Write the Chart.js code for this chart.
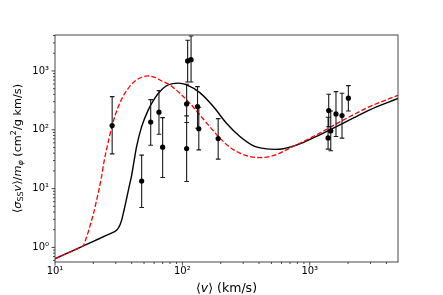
<!DOCTYPE html>
<html lang="en">

<head>
    <meta charset="UTF-8">
    <title>Self-scattering rate vs velocity</title>
    <script src="https://cdn.jsdelivr.net/npm/chart.js"></script>
    <style>
        html, body { margin: 0; padding: 0; background: #fff; }
        canvas { display: block; }
    </style>
</head>

<body>
    <canvas id="grafico" width="443" height="295"></canvas>

    <script>
        // Black solid curve (v in km/s, rate in cm^2/g km/s)
        const blackV = [10, 14, 16.7, 20, 25, 28, 29.6, 31, 32.4, 33.5, 34.4, 35.6, 36.7, 38.3, 40, 41.9, 43.7, 47.9, 54, 60.8, 66.6, 74, 84, 93, 108, 137, 175, 222, 283, 359, 457, 530, 620, 697, 887, 1197, 1618, 2188, 2958, 4930];
        const blackS = [0.642, 0.89, 1.06, 1.27, 1.58, 1.77, 1.87, 2.05, 2.43, 3.0, 3.83, 5.3, 7.2, 11, 17, 30.8, 51.8, 113, 218, 344, 446, 550, 610, 620, 578, 428, 248, 129, 76.7, 53.9, 47.4, 46.5, 47.5, 50.6, 60.7, 81.9, 113, 157, 218, 340];

        // Red dashed curve
        const redV = [10, 14, 16.2, 16.7, 17.4, 18.2, 19, 20, 21.2, 22, 23.2, 24.4, 25.7, 28.2, 31.4, 35.4, 41.1, 47.9, 53.3, 60.8, 66.6, 70.6, 79.8, 95.4, 114.5, 137, 164, 197, 236, 283, 338, 405, 486, 564, 697, 887, 1197, 1618, 2188, 2958, 4930];
        const redS = [0.642, 0.89, 1.03, 1.07, 1.35, 1.8, 2.5, 3.7, 6.3, 9, 16, 30.8, 51.8, 121, 248, 418, 633, 781, 822, 781, 703, 659, 578, 418, 283, 179, 113, 72, 50.6, 40, 35.1, 33.7, 35.1, 38.9, 48.7, 63, 87.5, 126, 179, 248, 385];

        // Observed systems with error bars
        const obsV = [28.1, 47.9, 56.4, 65.5, 70, 110, 117, 108, 108, 131.5, 134.6, 191, 1393, 1409, 1462, 1607, 1792, 2010];
        const obsS = [118, 13.4, 135, 199, 50.6, 1479, 1556, 275, 48, 248, 104, 70.8, 72.8, 212, 95.7, 186, 174, 344];
        const obsLo = [39, 4.77, 54.7, 84, 15.4, 650, 650, 133, 13.2, 106, 45.6, 31.7, 46.8, 113, 44, 76.7, 72, 209];
        const obsHi = [366, 37, 326, 463, 161, 3320, 3930, 594, 172, 541, 242, 155, 163, 402, 209, 446, 418, 564];

        // Axis ranges and tick labels
        const xMin = 10, xMax = 4930;
        const yMin = 0.565, yMax = 4085;
        const xMajor = [10, 100, 1000];
        const xTickLabels = ['10¹', '10²', '10³'];
        const yMajor = [1, 10, 100, 1000];
        const yTickLabels = ['10⁰', '10¹', '10²', '10³'];

        // Ticks at 1..9 x 10^n inside the range
        function logTicks(min, max) {
            const out = [];
            for (let e = Math.floor(Math.log10(min)); e <= Math.ceil(Math.log10(max)); e++) {
                for (let m = 1; m <= 9; m++) {
                    const v = m * Math.pow(10, e);
                    if (v >= min * 0.9999 && v <= max * 1.0001) out.push({ value: v });
                }
            }
            return out;
        }

        function isMajor(list, v) {
            return list.some(m => Math.abs(m - v) / m < 1e-6);
        }

        // Text with italic, subscript and superscript parts
        function richText(ctx, parts, size, x, y, rot) {
            const fontOf = p => `${p.it ? 'italic ' : ''}${(p.sub || p.sup) ? size * 0.7 : size}px 'DejaVu Sans'`;
            ctx.save();
            ctx.translate(x, y);
            ctx.rotate(rot);
            let w = 0;
            parts.forEach(p => { ctx.font = fontOf(p); p.w = ctx.measureText(p.t).width; w += p.w; });
            let cx = -w / 2;
            ctx.fillStyle = '#000';
            ctx.textAlign = 'left';
            ctx.textBaseline = 'alphabetic';
            parts.forEach(p => {
                ctx.font = fontOf(p);
                const dy = p.sup ? -0.4 * size : (p.sub ? 0.2 * size : 0);
                ctx.fillText(p.t, cx, dy);
                cx += p.w;
            });
            ctx.restore();
        }

        // Error bars drawn just before the points
        const errorBars = {
            id: 'errorBars',
            beforeDatasetDraw(chart, args) {
                if (chart.data.datasets[args.index].label !== 'obs') return;
                const { ctx, chartArea: a, scales: { x, y } } = chart;
                ctx.save();
                ctx.beginPath();
                ctx.rect(a.left, a.top, a.right - a.left, a.bottom - a.top);
                ctx.clip();
                ctx.strokeStyle = '#1a1a1a';
                ctx.lineWidth = 1.1;
                ctx.beginPath();
                obsV.forEach((v, i) => {
                    const px = x.getPixelForValue(v);
                    const top = y.getPixelForValue(obsHi[i]);
                    const bot = y.getPixelForValue(obsLo[i]);
                    ctx.moveTo(px, top); ctx.lineTo(px, bot);
                    ctx.moveTo(px - 2.3, top); ctx.lineTo(px + 2.3, top);
                    ctx.moveTo(px - 2.3, bot); ctx.lineTo(px + 2.3, bot);
                });
                ctx.stroke();
                ctx.restore();
            }
        };

        // Frame, outward tick marks and axis titles
        const frame = {
            id: 'frame',
            afterDraw(chart) {
                const { ctx, chartArea: a, scales: { x, y } } = chart;
                ctx.save();
                ctx.strokeStyle = '#333';
                ctx.lineWidth = 0.9;
                ctx.strokeRect(a.left, a.top, a.right - a.left, a.bottom - a.top);
                ctx.beginPath();
                x.ticks.forEach(t => {
                    const px = x.getPixelForValue(t.value);
                    const len = isMajor(xMajor, t.value) ? 3.5 : 2;
                    ctx.moveTo(px, a.bottom); ctx.lineTo(px, a.bottom + len);
                });
                y.ticks.forEach(t => {
                    const py = y.getPixelForValue(t.value);
                    const len = isMajor(yMajor, t.value) ? 3.5 : 2;
                    ctx.moveTo(a.left, py); ctx.lineTo(a.left - len, py);
                });
                ctx.stroke();
                ctx.restore();

                richText(ctx, [{ t: '⟨' }, { t: 'v', it: 1 }, { t: '⟩ (km/s)' }], 12.5, (a.left + a.right) / 2, 292, 0);
                richText(ctx, [
                    { t: '⟨' }, { t: 'σ', it: 1 }, { t: 'SS', sub: 1 }, { t: 'v', it: 1 }, { t: '⟩/' },
                    { t: 'm', it: 1 }, { t: 'φ', it: 1, sub: 1 }, { t: ' (cm' }, { t: '2', sup: 1 }, { t: '/g km/s)' }
                ], 11.3, 20.5, (a.top + a.bottom) / 2, -Math.PI / 2);
            }
        };

        const tickFont = { family: 'DejaVu Sans', size: 10 };

        new Chart(document.getElementById('grafico'), {
            type: 'scatter',
            data: {
                datasets: [
                    {
                        label: 'obs',
                        data: obsV.map((v, i) => ({ x: v, y: obsS[i] })),
                        backgroundColor: '#000',
                        borderColor: '#000',
                        pointRadius: 2.6,
                        pointBorderWidth: 0,
                        order: 0
                    },
                    {
                        label: 'red',
                        data: redV.map((v, i) => ({ x: v, y: redS[i] })),
                        showLine: true,
                        borderColor: '#ff0000',
                        borderWidth: 1.3,
                        borderDash: [5, 2.2],
                        pointRadius: 0,
                        cubicInterpolationMode: 'monotone',
                        order: 1
                    },
                    {
                        label: 'black',
                        data: blackV.map((v, i) => ({ x: v, y: blackS[i] })),
                        showLine: true,
                        borderColor: '#000',
                        borderWidth: 1.4,
                        pointRadius: 0,
                        cubicInterpolationMode: 'monotone',
                        order: 2
                    }
                ]
            },
            options: {
                responsive: false,
                animation: false,
                events: [],
                layout: { padding: { top: 35, right: 45, left: 0, bottom: 0 } },
                plugins: { legend: { display: false }, tooltip: { enabled: false } },
                scales: {
                    x: {
                        type: 'logarithmic',
                        position: 'bottom',
                        min: xMin,
                        max: xMax,
                        bounds: 'data',
                        grid: { display: false, drawTicks: false },
                        border: { display: false },
                        afterBuildTicks: s => { s.ticks = logTicks(xMin, xMax); },
                        afterFit: s => { s.height = 33; },
                        ticks: {
                            autoSkip: false,
                            maxRotation: 0,
                            padding: 3,
                            color: '#000',
                            font: tickFont,
                            callback: v => {
                                const i = xMajor.findIndex(m => Math.abs(m - v) / m < 1e-6);
                                return i >= 0 ? xTickLabels[i] : '';
                            }
                        }
                    },
                    y: {
                        type: 'logarithmic',
                        position: 'left',
                        min: yMin,
                        max: yMax,
                        bounds: 'data',
                        grid: { display: false, drawTicks: false },
                        border: { display: false },
                        afterBuildTicks: s => { s.ticks = logTicks(yMin, yMax); },
                        afterFit: s => { s.width = 55; },
                        ticks: {
                            autoSkip: false,
                            padding: 6,
                            color: '#000',
                            font: tickFont,
                            callback: v => {
                                const i = yMajor.findIndex(m => Math.abs(m - v) / m < 1e-6);
                                return i >= 0 ? yTickLabels[i] : '';
                            }
                        }
                    }
                }
            },
            plugins: [errorBars, frame]
        });
    </script>
</body>

</html>
